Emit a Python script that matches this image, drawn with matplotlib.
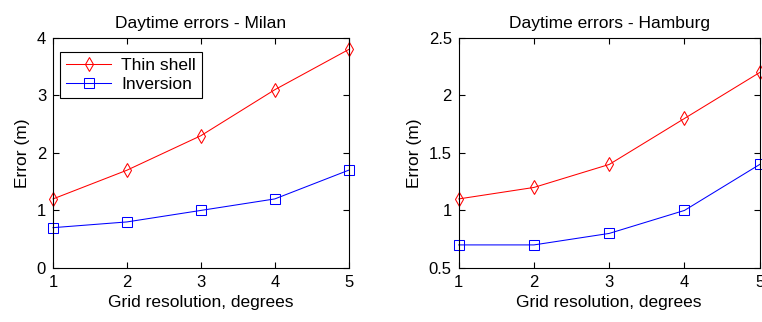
import matplotlib
matplotlib.use("Agg")
import matplotlib.pyplot as plt

plt.rcParams["font.family"] = ["Liberation Sans", "DejaVu Sans"]

resolution = [1, 2, 3, 4, 5]
milan_thin_shell = [1.2, 1.7, 2.3, 3.1, 3.8]
milan_inversion = [0.7, 0.8, 1.0, 1.2, 1.7]
hamburg_thin_shell = [1.1, 1.2, 1.4, 1.8, 2.2]
hamburg_inversion = [0.7, 0.7, 0.8, 1.0, 1.4]

panels = [
    ("Daytime errors - Milan", milan_thin_shell, milan_inversion,
     (0, 4), [0, 1, 2, 3, 4], ["0", "1", "2", "3", "4"]),
    ("Daytime errors - Hamburg", hamburg_thin_shell, hamburg_inversion,
     (0.5, 2.5), [0.5, 1, 1.5, 2, 2.5], ["0.5", "1", "1.5", "2", "2.5"]),
]

fig = plt.figure(figsize=(7.62, 3.22), dpi=100)
positions = [[0.0696, 0.168, 0.388, 0.714], [0.602, 0.168, 0.395, 0.714]]

for i, (title, thin, inv, ylim, yticks, ylabels) in enumerate(panels):
    ax = fig.add_axes(positions[i])
    ax.plot(resolution, thin, color="red", linewidth=0.75, marker="d",
            markersize=6.8, markerfacecolor="none", markeredgecolor="red",
            markeredgewidth=0.75, label="Thin shell", clip_on=False)
    ax.plot(resolution, inv, color="blue", linewidth=0.75, marker="s",
            markersize=7.5, markerfacecolor="none", markeredgecolor="blue",
            markeredgewidth=0.75, label="Inversion", clip_on=False)
    ax.set_xlim(1, 5)
    ax.set_ylim(*ylim)
    ax.set_xticks(resolution)
    ax.set_yticks(yticks)
    ax.set_yticklabels(ylabels)
    ax.tick_params(direction="in", top=True, right=True, labelsize=12,
                   length=4, width=0.8, pad=5)
    for s in ax.spines.values():
        s.set_linewidth(0.8)
    ax.set_title(title, fontsize=12.5, pad=7)
    ax.set_xlabel("Grid resolution, degrees", fontsize=12.5, labelpad=4)
    ax.set_ylabel("Error (m)", fontsize=12.5, labelpad=5)
    if i == 0:
        leg = ax.legend(loc="upper left", bbox_to_anchor=(0.024, 0.94),
                        borderaxespad=0, fontsize=12.5, fancybox=False,
                        edgecolor="black", framealpha=1, handlelength=2.6,
                        handletextpad=0.55, borderpad=0.35, labelspacing=0.2)
        leg.get_frame().set_linewidth(0.8)

fig.savefig("out.png", dpi=100)
